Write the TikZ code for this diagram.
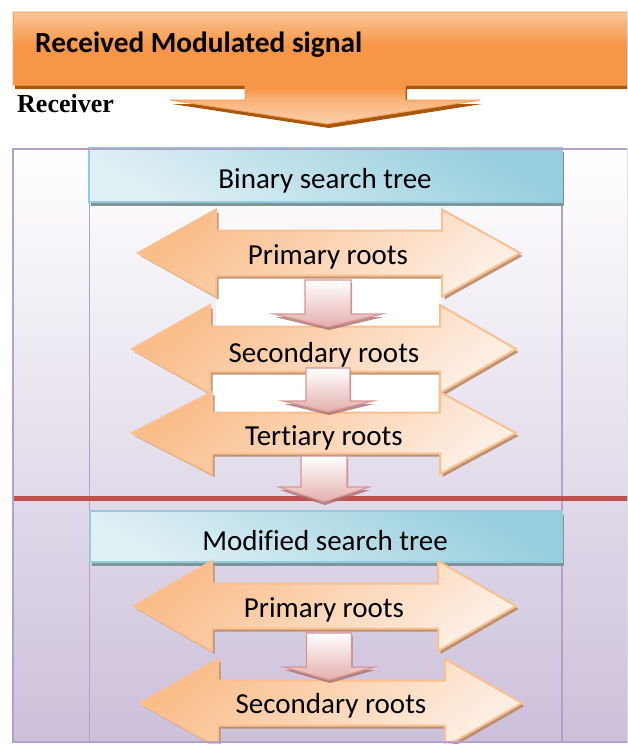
\documentclass[tikz,border=0pt]{standalone}
\usepackage{fontspec}
\setmainfont{Carlito}[Ligatures=NoCommon]
\newfontfamily\recvfont{Liberation Serif}
\usetikzlibrary{shadows}

% palette
\definecolor{framebd}{HTML}{B3A2C7}
\definecolor{bgbot}{HTML}{CCC0DA}
\definecolor{redline}{HTML}{C0504D}
\definecolor{orA}{HTML}{F79646}
\definecolor{orBd}{HTML}{F7A05A}
\definecolor{orLite}{HTML}{FAC598}
\definecolor{orMid}{HTML}{F9B37B}
\definecolor{orPeach}{HTML}{FBCFAB}
\definecolor{orShadow}{HTML}{A8570F}
\definecolor{hdrBd}{HTML}{93CDDD}
\definecolor{hdrDark}{HTML}{96CEDD}
\definecolor{hdrLite}{HTML}{E0F0F5}
\definecolor{hdrShadow}{HTML}{7F959C}
\definecolor{arBd}{HTML}{FAC090}
\definecolor{arDark}{HTML}{F9BD8A}
\definecolor{arLite}{HTML}{FEEEE2}
\definecolor{arShadow}{HTML}{B98A66}
\definecolor{dnBd}{HTML}{D99694}
\definecolor{dnBot}{HTML}{E4AFAE}
\definecolor{dnShadow}{HTML}{A86F6D}

% orange banner: light top, orange body, peach arrow head
\pgfdeclareverticalshading{bannershade}{100bp}{%
  color(0bp)=(orPeach); color(25bp)=(orPeach); color(36bp)=(orMid);
  color(41bp)=(orA); color(60bp)=(orA); color(75bp)=(orLite); color(100bp)=(orLite)}

% left-right block arrow: tip x, head base x, head base x, tip x, centre y, shaft half, head half
\newcommand\dblarrow[7]{%
  \path[dblstyle] (#1,#5) -- (#2,#5-#7) -- (#2,#5-#6) -- (#3,#5-#6) -- (#3,#5-#7)
    -- (#4,#5) -- (#3,#5+#7) -- (#3,#5+#6) -- (#2,#5+#6) -- (#2,#5+#7) -- cycle;}
% downward block arrow: centre x, stem half, top y, stem bottom y, head half, tip y
\newcommand\dnarrow[6]{%
  \path[dnstyle] (#1-#2,#3) -- (#1+#2,#3) -- (#1+#2,#4) -- (#1+#5,#4) -- (#1,#6)
    -- (#1-#5,#4) -- (#1-#2,#4) -- cycle;}

\begin{document}
\begin{tikzpicture}[x=1pt,y=-1pt,
  bannerstyle/.style={shading=bannershade, draw=orBd, line width=1pt,
    drop shadow={shadow xshift=2pt, shadow yshift=-4pt, fill=orShadow, opacity=1}},
  hdrstyle/.style={top color=hdrDark, bottom color=hdrLite, shading angle=-30,
    draw=hdrBd, line width=1.5pt,
    drop shadow={shadow xshift=2pt, shadow yshift=-4pt, fill=hdrShadow, opacity=1}},
  dblstyle/.style={top color=arDark, bottom color=arLite, shading angle=40,
    draw=arBd, line width=2pt, line join=miter,
    drop shadow={shadow xshift=2.5pt, shadow yshift=-3pt, fill=arShadow, opacity=.9}},
  dnstyle/.style={top color=white, bottom color=dnBot,
    draw=dnBd, line width=1.2pt, line join=miter,
    drop shadow={shadow xshift=1pt, shadow yshift=-3pt, fill=dnShadow, opacity=.8}},
  lbl/.style={anchor=base, inner sep=0pt, font=\fontsize{29}{32}\selectfont},
]
\useasboundingbox (0,0) rectangle (627,744);
\clip (0,0) rectangle (627,744);

% incoming signal banner with its down arrow
\path[bannerstyle] (13,12) -- (640,12) -- (640,85) -- (405,85) -- (405,100) -- (480,100)
  -- (327,124) -- (170,100) -- (245,100) -- (245,85) -- (13,85) -- cycle;
\node[anchor=base west, inner sep=0pt, font=\fontsize{29.3}{32}\selectfont\bfseries]
  (title) at (35,52) {Received Modulated signal};
\node[anchor=base west, inner sep=0pt, font=\recvfont\fontsize{26}{28}\selectfont\bfseries]
  (recv) at (17,112) {Receiver};

% receiver frame
\fill[top color=white, bottom color=bgbot] (13,149) rectangle (640,742);
\draw[framebd, line width=1.2pt] (89.5,149) -- (89.5,742) (562,149) -- (562,742);

% gaps between stacked arrows
\fill[white] (216,275) rectangle (442,327);
\fill[white] (212,372) rectangle (438,412);

% binary search tree stage
\path[hdrstyle] (89,148) rectangle (562,202);
\dblarrow{138}{216}{442}{520}{253}{22.5}{43.5}
\dblarrow{132}{210}{440}{516}{349}{22.5}{44}
\dblarrow{132}{212}{440}{516}{433}{20.5}{41}
\dnarrow{328}{23}{280}{314}{54}{327}
\dnarrow{328}{22}{368}{401}{45}{412}

\draw[redline, line width=5.5pt] (13,498.5) -- (640,498.5);
\dnarrow{324}{23}{456}{487}{45}{502}

% modified search tree stage
\path[hdrstyle] (90,511) rectangle (562,562);
\dblarrow{134}{212}{438}{516}{606}{22.5}{45}
\dblarrow{140}{218}{445}{522}{703}{22.5}{44}
\dnarrow{329}{22.5}{633}{667}{45}{680}

% frame outline
\draw[framebd, line width=2pt] (13,149) rectangle (640,742);

% labels
\node[lbl] (bst)  at (325,188) {Binary search tree};
\node[lbl] (pr1)  at (328,264) {Primary roots};
\node[lbl] (sec1) at (324,362) {Secondary roots};
\node[lbl] (ter1) at (324,445) {Tertiary roots};
\node[lbl] (mst)  at (325,550) {Modified search tree};
\node[lbl] (pr2)  at (324,617) {Primary roots};
\node[lbl] (sec2) at (331,713) {Secondary roots};
\end{tikzpicture}
\end{document}
